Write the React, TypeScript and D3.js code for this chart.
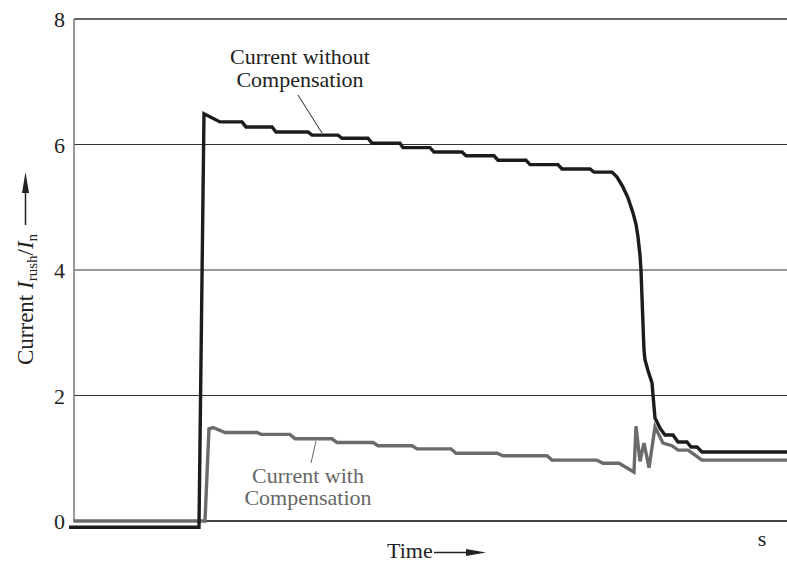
import React from "react";
import * as d3 from "d3";

// time (arbitrary units, 0..100 across the plot) and current ratio I_rush/I_n
const blackTime = [-0.7, 17.53, 18.23, 20.48, 23.56, 24.12, 27.77, 28.33, 32.82, 33.38, 37.03, 37.59, 41.23, 41.8, 45.72, 46.14, 49.93, 50.49, 54.42, 54.98, 58.91, 59.47, 63.39, 63.96, 67.88, 68.44, 72.37, 72.93, 75.46, 76.16, 77.0, 77.7, 78.4, 78.82, 79.1, 79.38, 79.52, 79.73, 79.94, 80.08, 80.5, 81.07, 81.21, 81.49, 82.19, 82.89, 84.01, 84.71, 85.97, 86.54, 87.38, 88.08, 100];
const blackValue = [-0.1, -0.1, 6.49, 6.36, 6.36, 6.28, 6.28, 6.2, 6.2, 6.15, 6.15, 6.1, 6.1, 6.02, 6.02, 5.95, 5.95, 5.88, 5.88, 5.82, 5.82, 5.75, 5.75, 5.68, 5.68, 5.61, 5.61, 5.56, 5.56, 5.48, 5.32, 5.15, 4.91, 4.73, 4.53, 4.24, 4.0, 3.36, 2.73, 2.57, 2.4, 2.2, 2.0, 1.64, 1.48, 1.37, 1.37, 1.26, 1.26, 1.18, 1.18, 1.1, 1.1];

const grayTime = [-0.1, 18.37, 18.93, 19.5, 21.18, 25.67, 26.23, 30.29, 31.0, 36.19, 36.89, 41.94, 42.64, 47.41, 48.11, 52.87, 53.58, 59.33, 60.17, 66.34, 67.04, 73.35, 74.19, 76.44, 78.54, 78.82, 79.38, 79.94, 80.65, 81.49, 82.61, 83.87, 84.71, 86.12, 87.1, 88.08, 100];
const grayValue = [0, 0, 1.47, 1.49, 1.41, 1.41, 1.38, 1.38, 1.31, 1.31, 1.25, 1.25, 1.2, 1.2, 1.15, 1.15, 1.08, 1.08, 1.04, 1.04, 0.97, 0.97, 0.92, 0.92, 0.78, 1.51, 0.95, 1.24, 0.85, 1.5, 1.24, 1.2, 1.13, 1.13, 1.05, 0.97, 0.97];

const yTicks = [0, 2, 4, 6, 8];
const gridValues = [2, 4, 6];

const FONT = "'Liberation Serif', 'Times New Roman', serif";

export default function App() {
  const W = 787, H = 564;
  const x = d3.scaleLinear().domain([0, 100]).range([74, 787]);
  const y = d3.scaleLinear().domain([0, 8]).range([521, 19]);

  const line = d3.line<[number, number]>().x(d => x(d[0])).y(d => y(d[1]));
  const blackPts: [number, number][] = blackTime.map((t, i) => [t, blackValue[i]]);
  const grayPts: [number, number][] = grayTime.map((t, i) => [t, grayValue[i]]);

  return (
    <svg width={W} height={H} style={{ position: "absolute", left: 0, top: 0, background: "#fff" }} fontFamily={FONT}>
      <rect width={W} height={H} fill="#fff" />
      {/* gridlines */}
      {gridValues.map(v => (
        <line key={v} x1={74} x2={787} y1={y(v)} y2={y(v)} stroke="#333" strokeWidth={1} />
      ))}
      {/* top border */}
      <line x1={74} x2={787} y1={y(8)} y2={y(8)} stroke="#333" strokeWidth={1.3} />
      {/* left border */}
      <line x1={74} x2={74} y1={y(8)} y2={y(0)} stroke="#777" strokeWidth={1.5} />
      {/* bottom axis */}
      <line x1={74} x2={787} y1={y(0)} y2={y(0)} stroke="#444" strokeWidth={1.8} />

      {/* tick labels */}
      {yTicks.map(v => (
        <text key={v} x={65} y={y(v) + 8} textAnchor="end" fontSize={22} fill="#222">{v}</text>
      ))}

      {/* series */}
      <path d={line(grayPts) || ""} fill="none" stroke="#6b6b6b" strokeWidth={3.4} strokeLinejoin="miter" />
      <path d={line(blackPts) || ""} fill="none" stroke="#1c1c1c" strokeWidth={3.4} strokeLinejoin="miter" />

      {/* annotations */}
      <text x={300} y={64} textAnchor="middle" fontSize={22} fill="#222">Current without</text>
      <text x={300} y={87} textAnchor="middle" fontSize={22} fill="#222">Compensation</text>
      <line x1={298} y1={95} x2={322} y2={133} stroke="#222" strokeWidth={1} />

      <text x={308} y={483} textAnchor="middle" fontSize={22} fill="#666">Current with</text>
      <text x={308} y={505} textAnchor="middle" fontSize={22} fill="#666">Compensation</text>
      <line x1={311} y1={463} x2={316} y2={441} stroke="#666" strokeWidth={1} />

      {/* y axis title */}
      <text transform="translate(33,365) rotate(-90)" fontSize={23} fill="#222">
        Current <tspan fontStyle="italic">I</tspan>
        <tspan fontSize={15} dy={4}>rush</tspan>
        <tspan dy={-4}>/</tspan>
        <tspan fontStyle="italic">I</tspan>
        <tspan fontSize={15} dy={4}>n</tspan>
      </text>
      <line x1={25.5} x2={25.5} y1={225} y2={192} stroke="#222" strokeWidth={1.5} />
      <polygon points="22,193 25.5,172 29,193" fill="#222" />

      {/* x axis title */}
      <text x={387} y={558} fontSize={22} fill="#222">Time</text>
      <line x1={434} x2={468} y1={552.5} y2={552.5} stroke="#222" strokeWidth={1.5} />
      <polygon points="466,549 486,552.5 466,556" fill="#222" />
      <text x={762} y={546} textAnchor="middle" fontSize={22} fill="#222">s</text>
    </svg>
  );
}
